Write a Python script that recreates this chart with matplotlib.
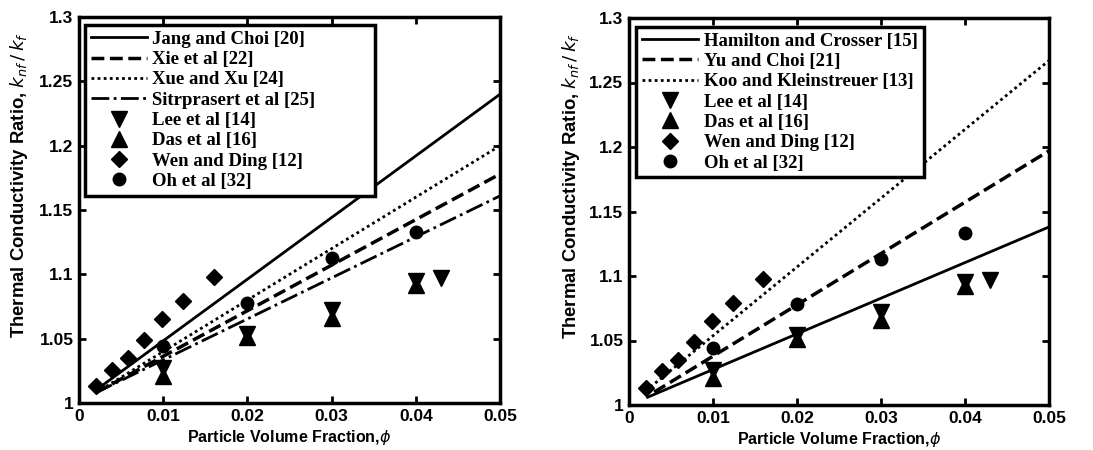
import numpy as np
import matplotlib
matplotlib.use("Agg")
import matplotlib.pyplot as plt
from matplotlib.font_manager import FontProperties
from matplotlib.ticker import FuncFormatter

# model lines (straight, endpoints)
phi_line = [0.002, 0.05]
jang_choi = [1.010, 1.240]
xie = [1.008, 1.178]
xue_xu = [1.008, 1.200]
sitrprasert = [1.008, 1.161]

phi_hc = [0.0022, 0.05]
hamilton = [1.006, 1.138]
phi_yc = [0.003, 0.05]
yu_choi = [1.010, 1.197]
phi_koo = [0.002, 0.05]
koo = [1.011, 1.267]

# experimental data
lee_x = [0.01, 0.02, 0.03, 0.04, 0.043]
lee_y = [1.027, 1.054, 1.072, 1.095, 1.097]
das_x = [0.01, 0.02, 0.03, 0.04]
das_y = [1.021, 1.051, 1.066, 1.092]
wen_x = [0.002, 0.0039, 0.0058, 0.0077, 0.0099, 0.0124, 0.016]
wen_y = [1.013, 1.026, 1.035, 1.049, 1.065, 1.079, 1.098]
oh_x = [0.01, 0.02, 0.03, 0.04]
oh_y = [1.044, 1.078, 1.113, 1.133]

xticks = [0, 0.01, 0.02, 0.03, 0.04, 0.05]
yticks = [1, 1.05, 1.1, 1.15, 1.2, 1.25, 1.3]

tick_font = dict(family="Liberation Sans", weight="bold", size=12.5)
xlab_font = dict(family="Liberation Sans", weight="bold", size=11.5)
ylab_font = dict(family="Liberation Sans", weight="bold", size=13.3)
leg_font = dict(family="Liberation Serif", weight="bold", size=13.5)


def style_axes(ax, ylab_x):
  ax.set_xlim(0, 0.05)
  ax.set_ylim(1, 1.3)
  ax.set_xticks(xticks)
  ax.set_yticks(yticks)
  fmt = FuncFormatter(lambda v, p: "%g" % round(v, 3))
  ax.xaxis.set_major_formatter(fmt)
  ax.yaxis.set_major_formatter(fmt)
  ax.tick_params(direction="in", top=True, right=True, length=5, width=2, pad=4)
  for t in ax.get_xticklabels() + ax.get_yticklabels():
    t.set_fontproperties(FontProperties(**tick_font))
  for s in ax.spines.values():
    s.set_linewidth(2.5)
  ax.set_xlabel(r"Particle Volume Fraction,$\phi$", fontdict=xlab_font, labelpad=3)
  ax.set_ylabel(r"Thermal Conductivity Ratio, $k_{nf}\,/\,k_f$", fontdict=ylab_font)
  ax.yaxis.set_label_coords(ylab_x, 0.565)


def scatter_data(ax):
  ax.plot(lee_x, lee_y, "v", color="k", markersize=12, label="Lee et al [14]")
  ax.plot(das_x, das_y, "^", color="k", markersize=12, label="Das et al [16]")
  ax.plot(wen_x, wen_y, "D", color="k", markersize=8, label="Wen and Ding [12]")
  ax.plot(oh_x, oh_y, "o", color="k", markersize=9, label="Oh et al [32]")


def add_legend(ax, box):
  leg = ax.legend(loc="upper left", bbox_to_anchor=box, mode="expand", borderaxespad=0,
                  prop=leg_font, frameon=True, fancybox=False, handlelength=3.0,
                  labelspacing=0.17, handletextpad=0.3, borderpad=0.3)
  leg.get_frame().set_edgecolor("k")
  leg.get_frame().set_linewidth(2.5)
  leg.get_frame().set_alpha(1)


fig = plt.figure(figsize=(10.93, 4.5), dpi=100)
ax1 = fig.add_axes([0.0723, 0.1044, 0.3852, 0.8578])
ax2 = fig.add_axes([0.5755, 0.10, 0.3842, 0.86])

# left panel
ax1.plot(phi_line, jang_choi, "-", color="k", lw=2, label="Jang and Choi [20]")
ax1.plot(phi_line, xie, "--", color="k", lw=2.5, label="Xie et al [22]")
ax1.plot(phi_line, xue_xu, linestyle=(0, (1, 1.2)), color="k", lw=2, label="Xue and Xu [24]")
ax1.plot(phi_line, sitrprasert, "-.", color="k", lw=2, label="Sitrprasert et al [25]")
scatter_data(ax1)
style_axes(ax1, -0.116)
add_legend(ax1, (0.014, 0.544, 0.689, 0.435))

# right panel
ax2.plot(phi_hc, hamilton, "-", color="k", lw=2, label="Hamilton and Crosser [15]")
ax2.plot(phi_yc, yu_choi, "--", color="k", lw=2.5, label="Yu and Choi [21]")
ax2.plot(phi_koo, koo, linestyle=(0, (1, 1.2)), color="k", lw=2, label="Koo and Kleinstreuer [13]")
scatter_data(ax2)
style_axes(ax2, -0.112)
add_legend(ax2, (0.017, 0.594, 0.685, 0.383))

fig.savefig("out.png", dpi=100)
